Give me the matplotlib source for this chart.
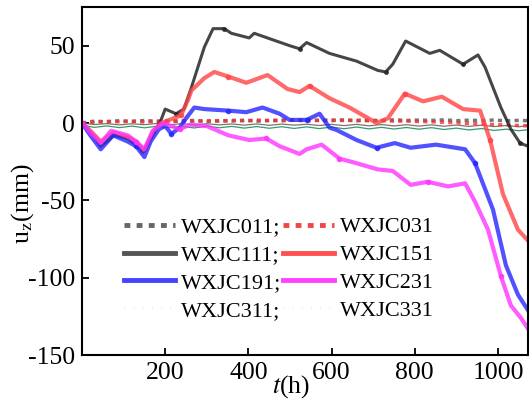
import matplotlib
matplotlib.use('Agg')
import matplotlib.pyplot as plt
from matplotlib.lines import Line2D

plt.rcParams['font.family'] = ['Liberation Serif', 'DejaVu Serif']
plt.rcParams['mathtext.fontset'] = 'stix'
plt.rcParams['axes.unicode_minus'] = False

#---    Data
t_111 = [0, 20, 45, 77, 110, 130, 147, 170, 190, 200, 226, 245, 263, 294, 315, 342, 359, 402, 414, 499, 523, 540,
         595, 660, 711, 730, 747, 778, 836, 860, 916, 952, 969, 1007, 1031, 1053, 1072]
u_111 = [0, -6, -15, -8, -10, -14, -19, -8, 2, 9, 6, 9, 23, 49, 61, 61, 58, 55, 58, 50, 48, 52,
         45, 40, 34, 33, 38, 53, 45, 47, 38, 44, 36, 10, -4, -13, -15]

t_151 = [0, 20, 45, 75, 110, 130, 150, 170, 190, 210, 238, 255, 263, 294, 318, 352, 395, 446, 494, 523, 547,
         595, 643, 708, 735, 776, 820, 865, 916, 957, 981, 1012, 1048, 1072]
u_151 = [0, -5, -12, -6, -9, -12, -18, -6, 0, 2, 5, 15, 21, 29, 33, 30, 26, 31, 22, 20, 24,
         16, 10, 0, 3, 19, 14, 17, 9, 8, -11, -46, -69, -76]

t_191 = [0, 20, 45, 75, 110, 130, 150, 165, 185, 200, 215, 235, 250, 270, 294, 352, 395, 434, 475, 499, 540,
         571, 595, 612, 660, 708, 752, 790, 851, 921, 945, 988, 1019, 1048, 1072]
u_191 = [0, -8, -17, -8, -12, -15, -22, -12, -4, -2, -7, -3, 3, 10, 9, 8, 7, 10, 6, 2, 2,
         6, -3, -4.5, -11, -16, -13, -16, -14, -17, -26, -56, -92, -111, -121]

t_231 = [0, 20, 45, 70, 110, 130, 150, 170, 195, 215, 235, 260, 300, 352, 402, 443, 475, 523, 540, 576, 619,
         660, 711, 747, 790, 831, 880, 921, 945, 976, 1007, 1031, 1055, 1072]
u_231 = [0, -6, -13, -5, -8, -12, -17, -5, 0, -2, -4, -1, -2, -8, -11, -10, -15, -20, -17, -14, -23,
         -26, -30, -31, -40, -38, -41, -39, -51, -69, -99, -118, -126, -133]

t_flat = [0, 30, 60, 90, 120, 150, 180, 210, 240, 270, 300, 330, 360, 390, 420, 450, 480, 510, 540,
          570, 600, 630, 660, 690, 720, 750, 780, 810, 840, 870, 900, 930, 960, 990, 1020, 1050, 1070]
u_011 = [0, 1.2, 0.8, 1.5, 1.0, 1.6, 1.1, 1.4, 1.2, 1.7, 1.0, 1.5, 1.3, 1.8, 1.2, 1.6, 1.4, 1.9, 1.3,
         1.7, 1.5, 2.0, 1.4, 1.8, 1.5, 2.1, 1.6, 1.9, 1.7, 2.0, 1.5, 1.8, 1.6, 1.9, 1.4, 1.7, 1.5]
u_031 = [0, 0.5, 1.0, 0.8, 1.2, 0.6, 1.1, 0.9, 1.4, 1.0, 1.5, 1.2, 1.8, 1.4, 1.9, 1.6, 2.0, 1.8, 2.2,
         1.7, 2.0, 1.6, 1.9, 1.4, 1.6, 1.2, 1.3, 0.9, 0.8, 0.5, 0.2, -0.3, -0.6, -1.0, -1.3, -1.6, -1.8]
u_311 = [-1.5, -2.8, -1.9, -3.0, -2.0, -3.1, -2.1, -3.0, -2.2, -3.2, -2.0, -3.1, -2.2, -3.3, -2.3, -3.4, -2.4, -3.5, -2.5,
         -3.6, -2.6, -3.7, -2.6, -3.8, -2.8, -3.9, -2.9, -4.0, -3.0, -4.2, -3.3, -4.5, -3.6, -4.8, -4.0, -5.0, -4.4]
u_331 = [0, -1.0, -0.4, -1.2, -0.5, -1.1, -0.3, -1.2, -0.4, -1.3, -0.5, -1.2, -0.6, -1.4, -0.6, -1.5, -0.7, -1.4, -0.8,
         -1.6, -0.9, -1.7, -0.9, -1.8, -1.0, -1.9, -1.1, -2.0, -1.2, -2.1, -1.3, -2.2, -1.4, -2.3, -1.6, -2.4, -1.8]

#---    Graph
fig = plt.figure(figsize=(5.29, 4.0), dpi=100)
ax = fig.add_axes([0.155, 0.1125, 0.843, 0.87])

ax.plot(t_flat, u_331, color='#6b4a4a', linewidth=0.9, alpha=0.8)
ax.plot(t_flat, u_311, color='#1f8f5f', linewidth=0.9, alpha=0.9)
ax.plot(t_flat, u_011, color='#555555', linewidth=2.5, linestyle=(0, (1.2, 1.2)), alpha=0.8)
ax.plot(t_flat, u_031, color='#ee3333', linewidth=2.5, linestyle=(0, (1.2, 1.2)), alpha=0.8)
ax.plot(t_111, u_111, color='#262626', linewidth=2.2, alpha=0.85,
        marker='o', markersize=2.5, markevery=5)
ax.plot(t_151, u_151, color='#ff4444', linewidth=3.0, alpha=0.8,
        marker='o', markersize=3, markevery=5)
ax.plot(t_191, u_191, color='#2626ff', linewidth=3.0, alpha=0.8,
        marker='o', markersize=3, markevery=5)
ax.plot(t_231, u_231, color='#ff33ff', linewidth=3.0, alpha=0.8,
        marker='o', markersize=3, markevery=5)

ax.set_xlim(0, 1072)
ax.set_ylim(-150, 75)
ax.set_xticks([200, 400, 600, 800, 1000])
ax.set_yticks([-150, -100, -50, 0, 50])
ax.tick_params(direction='in', length=5, width=1.3, labelsize=18.5, pad=5, top=False, right=False)
for s in ax.spines.values():
    s.set_linewidth(1.5)

ax.text(0.469, -0.09, r'$t$(h)', transform=ax.transAxes, fontsize=18.5, ha='center', va='center')
fig.text(0.042, 0.49, r'u$_{\rm z}$(mm)', rotation=90, fontsize=18.5, ha='center', va='center')

#---    Legend
h011 = Line2D([], [], color='#555555', linewidth=3.5, linestyle=(0, (1.2, 1.3)), alpha=0.9)
h111 = Line2D([], [], color='#555555', linewidth=3.5)
h191 = Line2D([], [], color='#4444ff', linewidth=3.5)
h311 = Line2D([], [], color='#cfe8e0', linewidth=1.0, linestyle=(0, (0.6, 6)))
h031 = Line2D([], [], color='#ee3333', linewidth=3.5, linestyle=(0, (1.2, 1.3)), alpha=0.9)
h151 = Line2D([], [], color='#ff5050', linewidth=3.5)
h231 = Line2D([], [], color='#ff44ff', linewidth=3.5)
h331 = Line2D([], [], color='#e8e0e0', linewidth=1.0, linestyle=(0, (0.6, 6)))
handles = [h011, h111, h191, h311, h031, h151, h231, h331]
labels = ['WXJC011;', 'WXJC111;', 'WXJC191;', 'WXJC311;', 'WXJC031', 'WXJC151', 'WXJC231', 'WXJC331']
ax.legend(handles, labels, ncol=2, loc='upper left', bbox_to_anchor=(0.094, 0.397), frameon=False,
          fontsize=16, handlelength=2.3, handletextpad=0.27, columnspacing=0.05,
          labelspacing=0.33, borderpad=0, borderaxespad=0)

plt.savefig('out.png', dpi=100)
